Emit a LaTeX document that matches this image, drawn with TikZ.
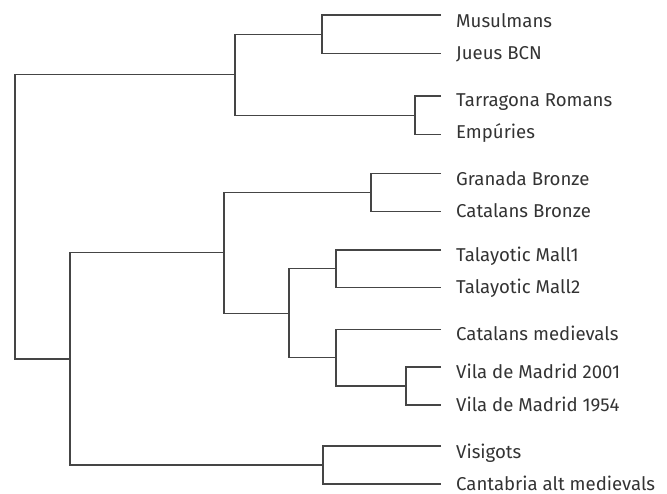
\documentclass[tikz,border=0pt]{standalone}
\usepackage{fontspec}
\setmainfont{Fira Sans}
\definecolor{linegray}{HTML}{454545}
\definecolor{textgray}{HTML}{333333}
\begin{document}
\begin{tikzpicture}[x=1pt,y=-1pt,
  branch/.style={draw=linegray,line width=1.15pt},
  leaflabel/.style={anchor=base west,inner sep=0pt,text=textgray,font=\fontsize{18.6}{20}\selectfont}]
\useasboundingbox (0,0) rectangle (667,494);
% leaf ends
\coordinate (L1) at (441,15);
\coordinate (L2) at (441,53.5);
\coordinate (L3) at (441,96);
\coordinate (L4) at (441,134.5);
\coordinate (L5) at (441,173.5);
\coordinate (L6) at (441,211.7);
\coordinate (L7) at (441,250);
\coordinate (L8) at (441,287.5);
\coordinate (L9) at (441,329.5);
\coordinate (L10) at (441,367);
\coordinate (L11) at (441,405);
\coordinate (L12) at (441,446);
\coordinate (L13) at (441,484);
% internal joints
\coordinate (n12) at (322,34.25);
\coordinate (n34) at (415,115.25);
\coordinate (ntop) at (235,74.75);
\coordinate (n56) at (371,192.6);
\coordinate (n78) at (336,268.75);
\coordinate (n1011) at (406,386);
\coordinate (n9x) at (336,357.75);
\coordinate (ntm) at (289,313.25);
\coordinate (nb) at (224,252.9);
\coordinate (n1213) at (323,465);
\coordinate (nlow) at (70,359);
\coordinate (root) at (15,216.9);
% labels
\node[leaflabel] (t1) at (456,27.3) {Musulmans};
\node[leaflabel] (t2) at (456,60) {Jueus BCN};
\node[leaflabel] (t3) at (456,106.7) {Tarragona Romans};
\node[leaflabel] (t4) at (456,138.3) {Empúries};
\node[leaflabel] (t5) at (456,186) {Granada Bronze};
\node[leaflabel] (t6) at (456,217.7) {Catalans Bronze};
\node[leaflabel] (t7) at (456,261.7) {Talayotic Mall1};
\node[leaflabel] (t8) at (456,293.3) {Talayotic Mall2};
\node[leaflabel] (t9) at (456,341) {Catalans medievals};
\node[leaflabel] (t10) at (456,379) {Vila de Madrid 2001};
\node[leaflabel] (t11) at (456,411.7) {Vila de Madrid 1954};
\node[leaflabel] (t12) at (456,458.3) {Visigots};
\node[leaflabel] (t13) at (456,490) {Cantabria alt medievals};
% branches
\draw[branch] (L1) -| (n12) |- (L2);
\draw[branch] (L3) -| (n34) |- (L4);
\draw[branch] (n12) -| (ntop) |- (n34);
\draw[branch] (L5) -| (n56) |- (L6);
\draw[branch] (L7) -| (n78) |- (L8);
\draw[branch] (L10) -| (n1011) |- (L11);
\draw[branch] (L9) -| (n9x) |- (n1011);
\draw[branch] (n78) -| (ntm) |- (n9x);
\draw[branch] (n56) -| (nb) |- (ntm);
\draw[branch] (L12) -| (n1213) |- (L13);
\draw[branch] (nb) -| (nlow) |- (n1213);
\draw[branch] (ntop) -| (root) |- (nlow);
\end{tikzpicture}
\end{document}
